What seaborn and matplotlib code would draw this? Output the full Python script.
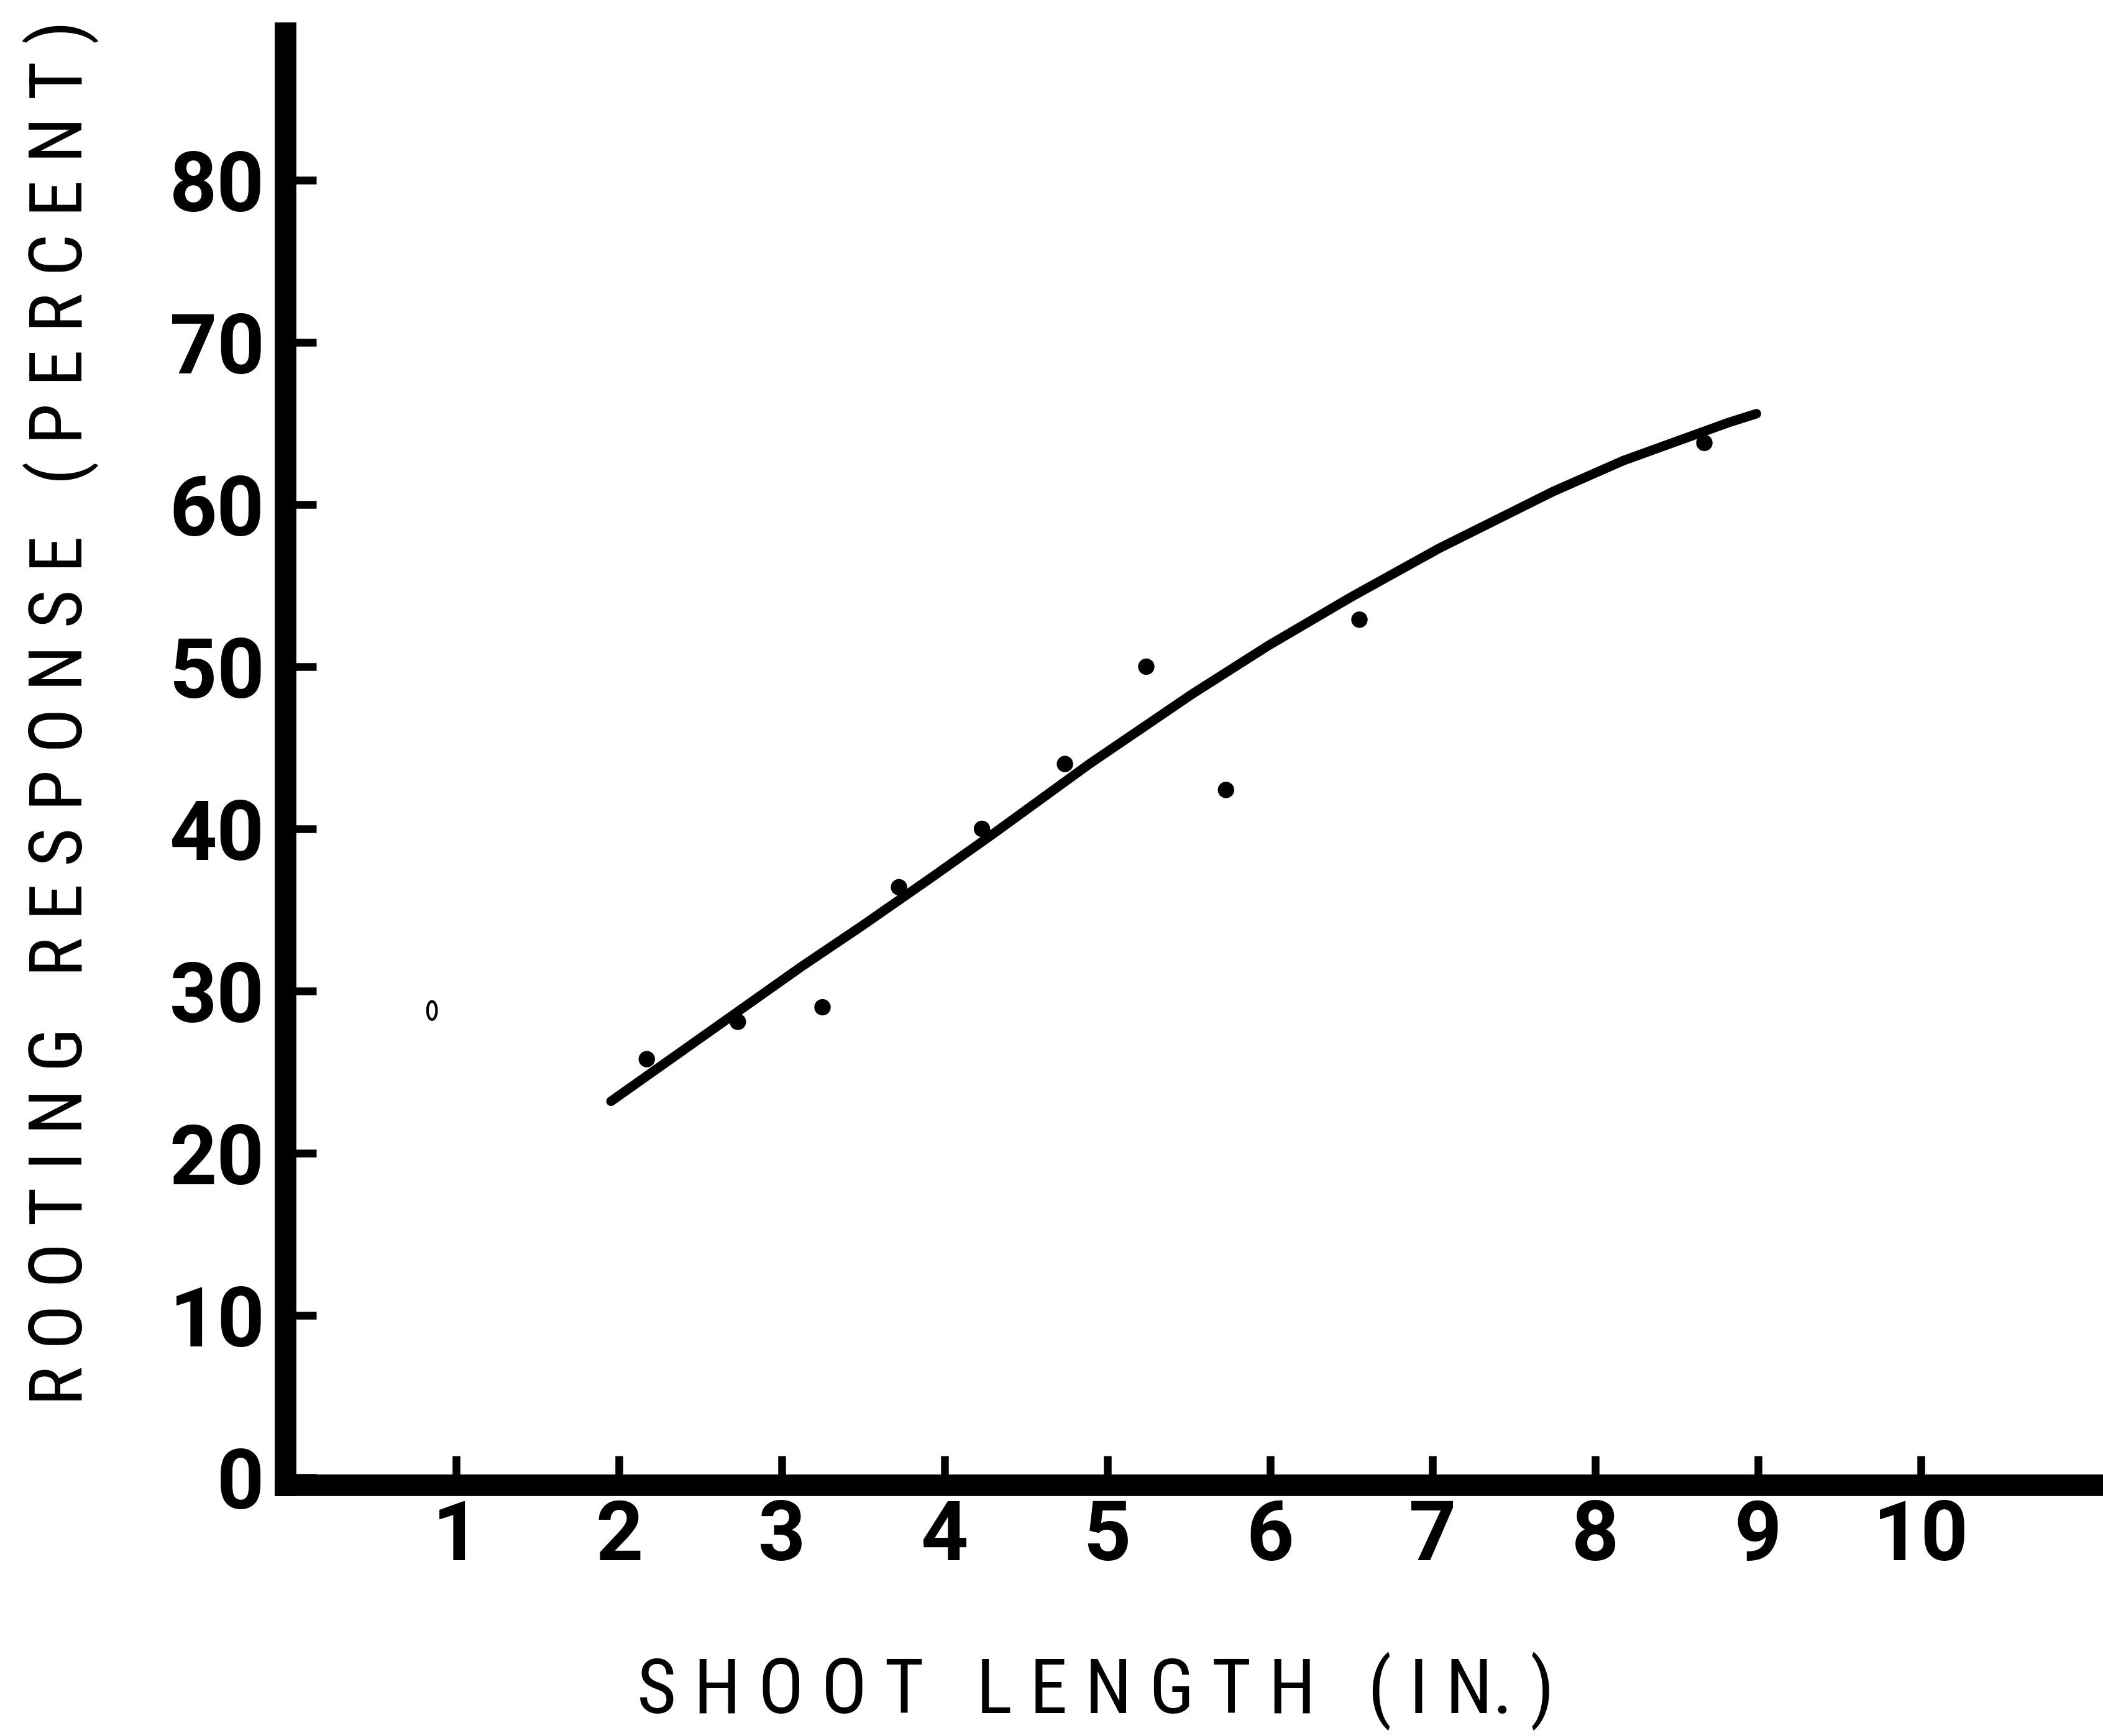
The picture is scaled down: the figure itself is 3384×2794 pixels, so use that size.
import matplotlib
matplotlib.use("Agg")
import matplotlib.pyplot as plt
import seaborn as sns
import numpy as np
from matplotlib import font_manager as fm
from matplotlib.path import Path
from matplotlib.markers import MarkerStyle

# ---------------- data ----------------
shoot_length = [2.17, 2.73, 3.25, 3.72, 4.23, 4.74, 5.24, 5.73, 6.55, 8.67]
rooting_pct = [25.8, 28.1, 29.0, 36.4, 40.0, 44.0, 50.0, 42.4, 52.9, 63.8]
open_x = [0.85]
open_y = [28.8]
curve_x = [1.95, 3.12, 3.49, 3.92, 4.30, 4.89, 5.52, 5.99, 6.50, 7.04, 7.38, 7.74, 8.17, 8.82, 8.99]
curve_y = [23.2, 31.5, 34.0, 37.0, 39.7, 44.0, 48.3, 51.3, 54.3, 57.3, 59.0, 60.8, 62.7, 65.06, 65.6]
x_ticks = [1, 2, 3, 4, 5, 6, 7, 8, 9, 10]
y_ticks = [0, 10, 20, 30, 40, 50, 60, 70, 80]
x_label = "S H O O T   L E N G T H   ( I N. )"
y_label = "R O O T I N G   R E S P O N S E   ( P E R C E N T )"

# ---------------- fonts ----------------
sns.set_theme(style="white")
plt.rcParams['font.family'] = ['DejaVu Sans']


def condensed_font():
    tl = fm.fontManager.ttflist
    names = {f.name for f in tl}
    for c in ['Liberation Sans Narrow', 'Roboto Condensed', 'Noto Sans ExtraCondensed',
              'Noto Sans Condensed', 'Open Sans Condensed', 'DejaVu Sans Condensed']:
        if c in names:
            return fm.FontProperties(family=c)
    for f in tl:
        if f.name == 'DejaVu Sans' and f.stretch in ('condensed', 'semi-condensed') \
                and f.style == 'normal' and f.weight in (400, 'normal', 'regular'):
            return fm.FontProperties(fname=f.fname)
    return fm.FontProperties(family='DejaVu Sans')


names = {f.name for f in fm.fontManager.ttflist}
tick_family = 'Roboto' if 'Roboto' in names else 'DejaVu Sans'
xlabel_fp = condensed_font()
xlabel_fp.set_size(88)
ylabel_fp = condensed_font()
ylabel_fp.set_size(86)

# ---------------- figure ----------------
W, H = 3384, 2794
fig = plt.figure(figsize=(W / 100, H / 100), dpi=100)
ax_left, ax_bottom, ax_top = 459, 2390, 53
ax = fig.add_axes([ax_left / W, 1 - ax_bottom / H, 1 - ax_left / W, (ax_bottom - ax_top) / H])
ax.set_facecolor('white')

sns.lineplot(x=curve_x, y=curve_y, ax=ax, color='black', linewidth=11,
             sort=False, estimator=None, solid_capstyle='round', solid_joinstyle='round')
sns.scatterplot(x=shoot_length, y=rooting_pct, ax=ax, color='black', s=19 ** 2,
                edgecolor='none', linewidth=0, zorder=3)

t = np.linspace(0, 2 * np.pi, 60)
ell = Path(np.column_stack([0.5 * np.cos(t), np.sin(t)]), closed=True)
sns.scatterplot(x=open_x, y=open_y, ax=ax, marker=MarkerStyle(ell), s=21 ** 2,
                facecolor='none', edgecolor='black', linewidth=3, zorder=3)

ax.set_xlim(-0.052, 11.12)
ax.set_ylim(-0.46, 89.08)
ax.set_xticks(x_ticks)
ax.set_yticks(y_ticks)
ax.set_xticklabels([str(v) for v in x_ticks], fontsize=96, fontweight='bold', family=tick_family)
ax.set_yticklabels([str(v) for v in y_ticks], fontsize=96, fontweight='bold', family=tick_family)
ax.tick_params(axis='x', direction='in', length=34, width=9, color='black', pad=15,
               bottom=True, left=False, labelcolor='black')
ax.tick_params(axis='y', direction='in', length=36, width=9, color='black', pad=24,
               left=True, bottom=False, labelcolor='black')
ax.grid(False)

for side in ['top', 'right']:
    ax.spines[side].set_visible(False)
for side in ['left', 'bottom']:
    ax.spines[side].set_linewidth(25)
    ax.spines[side].set_color('black')
    ax.spines[side].set_capstyle('projecting')

ax.set_xlabel(x_label, fontproperties=xlabel_fp, color='black', va='center')
ax.set_ylabel(y_label, fontproperties=ylabel_fp, color='black', va='center')
ax.xaxis.set_label_coords((1763 - ax_left) / (W - ax_left), (ax_bottom - 2722) / (ax_bottom - ax_top))
ax.yaxis.set_label_coords((98 - ax_left) / (W - ax_left), (ax_bottom - 1147) / (ax_bottom - ax_top))

fig.savefig('out.png', dpi=100, facecolor='white')
